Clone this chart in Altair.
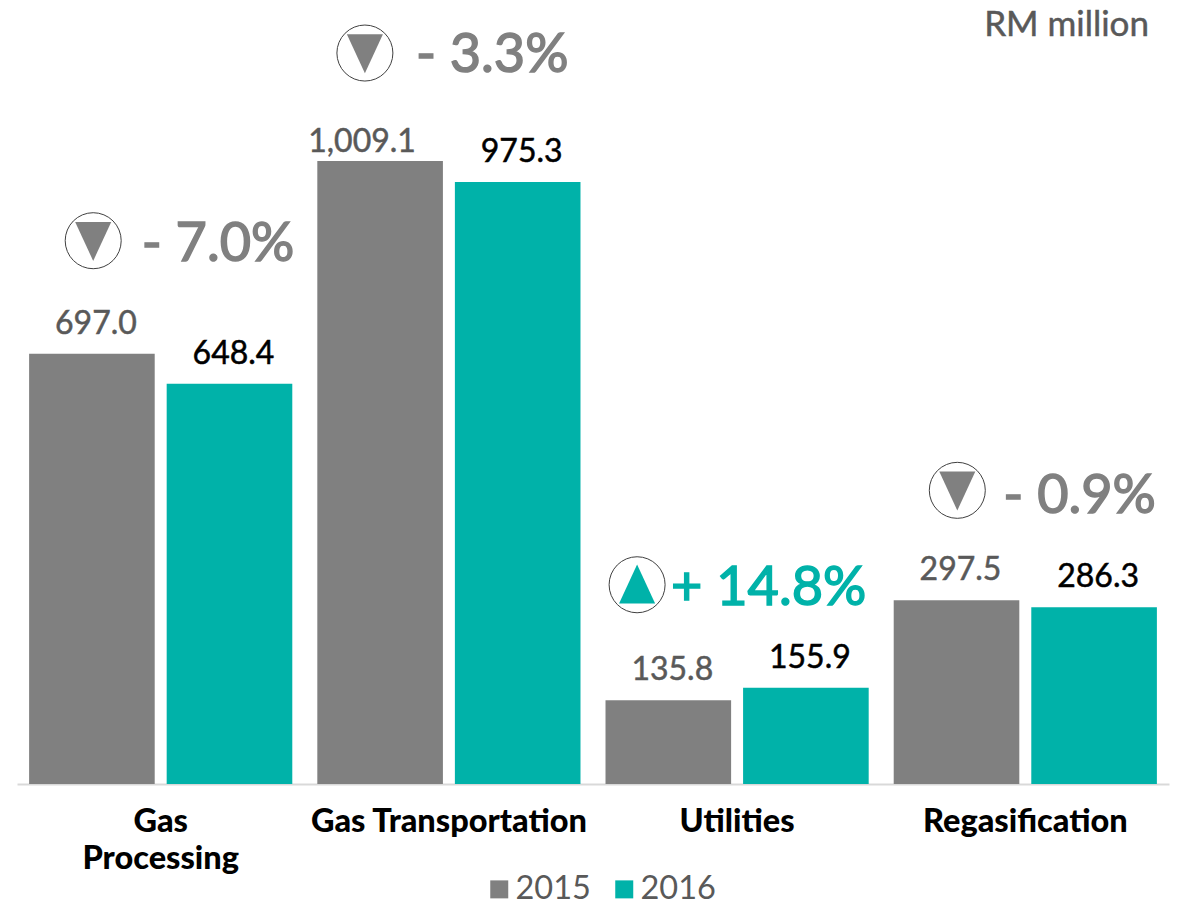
import altair as alt
import pandas as pd

categories = ["Gas Processing", "Gas Transportation", "Utilities", "Regasification"]
values_2015 = [697.0, 1009.1, 135.8, 297.5]
values_2016 = [648.4, 975.3, 155.9, 286.3]
years = ["2015", "2016"]
changes = ["- 7.0%", "- 3.3%", "+ 14.8%", "- 0.9%"]
directions = ["down", "down", "up", "down"]

GRAY = "#808080"
TEAL = "#00B2A9"
DARK = "#595959"
FONT = "Lato"

rows = []
for c, a, b in zip(categories, values_2015, values_2016):
    rows.append({"category": c, "year": "2015", "value": a})
    rows.append({"category": c, "year": "2016", "value": b})
df = pd.DataFrame(rows)

x = alt.X("category:N", sort=categories, title=None,
          scale=alt.Scale(paddingInner=0.0868, paddingOuter=0.042),
          axis=alt.Axis(labelAngle=0, ticks=False, labelFont=FONT, labelFontSize=32.5,
                        labelFontWeight=900, labelColor="#000000", labelPadding=21,
                        labelLineHeight=37, labelLimit=400, domainColor="#D9D9D9", domainWidth=2,
                        labelExpr="datum.label == 'Gas Processing' ? ['Gas', 'Processing'] : datum.label"))
xoff = alt.XOffset("year:N", sort=years, scale=alt.Scale(paddingInner=0.087, paddingOuter=0))
y = alt.Y("value:Q", axis=None, scale=alt.Scale(domain=[0, 1257], nice=False))

bars = alt.Chart(df).mark_bar().encode(
    x=x, xOffset=xoff, y=y,
    color=alt.Color("year:N", sort=years, title=None,
                    scale=alt.Scale(domain=years, range=[GRAY, TEAL]),
                    legend=alt.Legend(orient="none", legendX=466, legendY=865, columns=2,
                                      symbolType="square", symbolSize=324, symbolStrokeWidth=0,
                                      labelFont=FONT, labelFontSize=32.5, labelColor=DARK,
                                      labelOffset=0, columnPadding=17, padding=0)),
)

common = dict(font=FONT, fontSize=32, baseline="alphabetic", align="center", strokeWidth=0.5)
label_color = alt.condition(alt.datum.year == "2015", alt.value(DARK), alt.value("#000000"))
labels = alt.Chart(df).transform_filter(alt.datum.value < 1000).mark_text(dy=-20, dx=4, **common).encode(
    x=x, xOffset=xoff, y=y,
    text=alt.Text("value:Q", format=",.1f"),
    color=label_color, stroke=label_color,
)
label_top = alt.Chart(df).transform_filter(alt.datum.value >= 1000).mark_text(dy=-9, dx=-18, color=DARK, stroke=DARK, **common).encode(
    x=x, xOffset=xoff, y=y,
    text=alt.Text("value:Q", format=",.1f"),
)

# offsets from the top of each group's taller bar / group centre
circle_dx = [-67.5, -84, -100, -68]
circle_dy = [-113, -108, -103, -110]
text_dx = [-19, -33, -66, -22]
text_dy = [-109, -105, -99, -103]

DOWN = "M-1,-1.04L1,-1.04L0,1.12Z"
UP = "M0,-1.12L1,1.04L-1,1.04Z"

layers = [bars, labels, label_top]
for i, c in enumerate(categories):
    top = max(values_2015[i], values_2016[i])
    a = pd.DataFrame({"category": [c], "value": [top], "change": [changes[i]]})
    col = TEAL if directions[i] == "up" else GRAY
    shape = UP if directions[i] == "up" else DOWN
    base = alt.Chart(a).encode(x=x, y=y)
    layers.append(base.mark_point(shape="circle", size=3136, filled=False, color="#404040", strokeWidth=1,
                                  xOffset=circle_dx[i], yOffset=circle_dy[i], opacity=1))
    layers.append(base.mark_point(shape=shape, size=1300, filled=True, color=col, strokeWidth=0,
                                  xOffset=circle_dx[i], yOffset=circle_dy[i], opacity=1))
    layers.append(base.mark_text(font=FONT, fontSize=54, color=col, stroke=col, strokeWidth=1.5, align="left",
                                 baseline="middle", dx=text_dx[i], dy=text_dy[i]).encode(text="change:N"))

unit = alt.Chart(pd.DataFrame({"t": ["RM million"]})).mark_text(
    font=FONT, fontSize=35, color=DARK, stroke=DARK, strokeWidth=0.5, align="right", baseline="middle"
).encode(text="t:N", x=alt.value(1132), y=alt.value(17))
layers.append(unit)

chart = alt.layer(*layers).properties(
    width=1152, height=776,
    padding={"left": 9, "top": 0, "right": 6, "bottom": 124},
    autosize=alt.AutoSizeParams(type="none"),
).configure_view(stroke=None).configure_axis(grid=False)

chart.save("out.html", embed_options={"renderer": "svg", "actions": False})
